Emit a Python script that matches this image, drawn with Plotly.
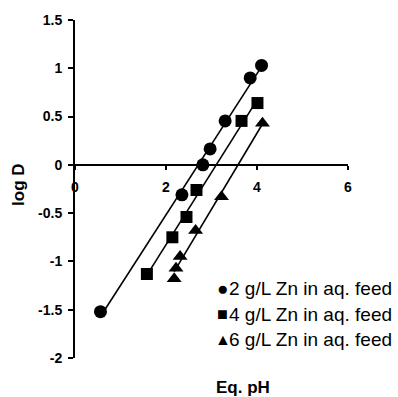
import numpy as np
import plotly.graph_objects as go

# ---- data ----
ph_2g = [0.56, 2.35, 2.81, 2.97, 3.30, 3.85, 4.10]
logd_2g = [-1.52, -0.31, 0.00, 0.165, 0.455, 0.90, 1.03]

ph_4g = [1.58, 2.14, 2.45, 2.67, 3.66, 4.01]
logd_4g = [-1.13, -0.75, -0.54, -0.26, 0.455, 0.64]

ph_6g = [2.18, 2.22, 2.31, 2.65, 3.22, 4.12]
logd_6g = [-1.18, -1.07, -0.95, -0.68, -0.33, 0.43]

series_names = ["2 g/L Zn in aq. feed", "4 g/L Zn in aq. feed", "6 g/L Zn in aq. feed"]
legend_glyphs = ["\u25CF", "\u25A0", "\u25B2"]
legend_glyph_sizes = [19, 18, 16]
marker_symbols = ["circle", "square", "triangle-up"]
marker_sizes = [13, 12, 13]

x_tickvals = [0, 2, 4, 6]
x_ticktext = ["0", "2", "4", "6"]
y_tickvals = [-2, -1.5, -1, -0.5, 0, 0.5, 1, 1.5]
y_ticktext = ["-2", "-1.5", "-1", "-0.5", "0", "0.5", "1", "1.5"]
x_range = [0, 6]
y_range = [-2, 1.5]

FONT = "Liberation Sans, Arial, sans-serif"

fig = go.Figure()

all_x = [ph_2g, ph_4g, ph_6g]
all_y = [logd_2g, logd_4g, logd_6g]

for xs, ys, sym, sz, name in zip(all_x, all_y, marker_symbols, marker_sizes, series_names):
    xs_a = np.array(xs)
    ys_a = np.array(ys)
    slope, icpt = np.polyfit(xs_a, ys_a, 1)
    lx = np.array([xs_a.min(), xs_a.max()])
    fig.add_trace(go.Scatter(x=lx, y=slope * lx + icpt, mode="lines",
                             line=dict(color="black", width=1.6),
                             showlegend=False, hoverinfo="skip"))
    fig.add_trace(go.Scatter(x=xs, y=ys, mode="markers", name=name,
                             marker=dict(symbol=sym, size=sz, color="black",
                                         line=dict(width=0)),
                             showlegend=False))

# x axis crosses y at 0
x_pos = (0 - y_range[0]) / (y_range[1] - y_range[0])

fig.update_layout(
    width=398, height=397,
    margin=dict(l=75, r=50, t=20, b=39),
    paper_bgcolor="white", plot_bgcolor="white",
    font=dict(family=FONT, color="black"),
    xaxis=dict(range=x_range, anchor="free", position=x_pos,
               showline=True, linecolor="black", linewidth=2,
               ticks="outside", ticklen=4, tickwidth=1.5, tickcolor="black",
               tickvals=x_tickvals, ticktext=x_ticktext,
               tickfont=dict(size=14, weight="bold", family=FONT),
               ticklabelstandoff=5,
               showgrid=False, zeroline=False),
    yaxis=dict(range=y_range,
               showline=True, linecolor="black", linewidth=2,
               ticks="outside", ticklen=5, tickwidth=1.5, tickcolor="black",
               tickvals=y_tickvals, ticktext=y_ticktext,
               tickfont=dict(size=14, weight="bold", family=FONT),
               ticklabelstandoff=3,
               showgrid=False, zeroline=False),
    showlegend=False,
)

# axis titles
fig.add_annotation(text="Eq. pH", xref="paper", yref="paper", x=0.615, y=-0.087,
                   xanchor="center", yanchor="middle", showarrow=False,
                   font=dict(size=17, weight="bold", family=FONT))
fig.add_annotation(text="log D", xref="paper", yref="paper", x=-0.205, y=0.512,
                   xanchor="center", yanchor="middle", showarrow=False, textangle=-90,
                   borderpad=0,
                   font=dict(size=17, weight="bold", family=FONT))

# legend rows: glyph + label
legend_y = [0.205, 0.129, 0.056]
for g, gs, name, ly in zip(legend_glyphs, legend_glyph_sizes, series_names, legend_y):
    fig.add_annotation(text=g, xref="paper", yref="paper",
                       x=0.541, y=ly, xanchor="center", yanchor="middle",
                       showarrow=False, font=dict(size=gs, family=FONT))
    fig.add_annotation(text=name, xref="paper", yref="paper",
                       x=0.557, y=ly, xanchor="left", yanchor="middle",
                       showarrow=False, font=dict(size=19, family=FONT))

fig.write_html("out.html",
               config={"displayModeBar": False},
               post_script="document.body.style.margin='0';document.body.style.overflow='hidden';")
